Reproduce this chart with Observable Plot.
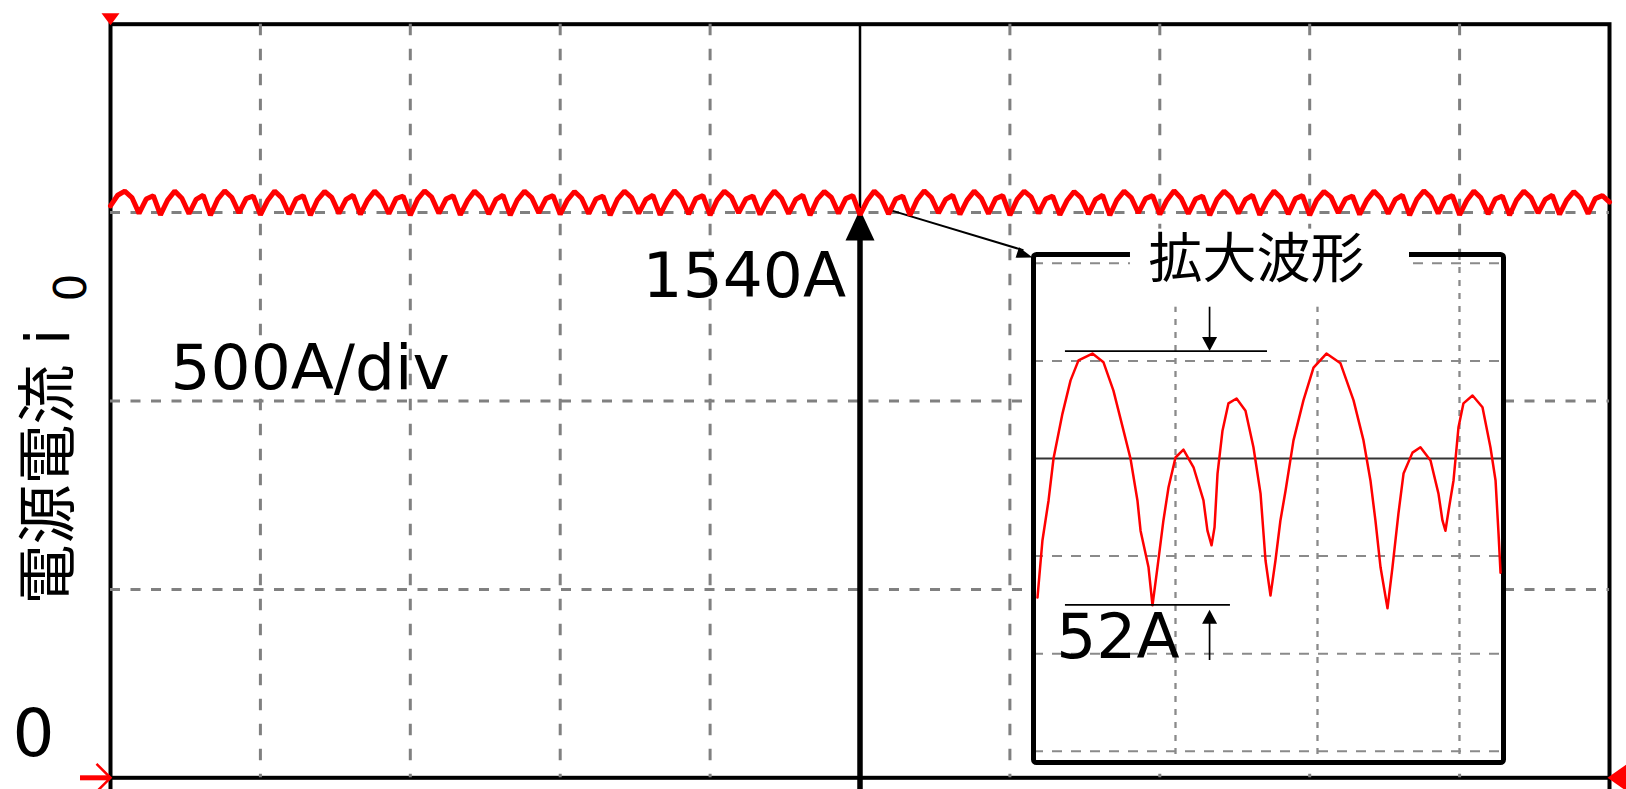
<!DOCTYPE html>
<html><head><meta charset="utf-8">
<script src="https://cdn.jsdelivr.net/npm/d3@7"></script>
<script src="https://cdn.jsdelivr.net/npm/@observablehq/plot@0.6"></script>
<style>
body{margin:0;background:#fff;}
#wrap{position:relative;width:1626px;height:789px;overflow:hidden;}
#main{position:absolute;left:0;top:0;width:1626px;}
#inset{position:absolute;left:1023px;top:220px;width:490px;}
svg{display:block}
</style></head><body>
<div id="wrap"><div id="main"></div><div id="inset"></div></div>
<script>
// ---------- data ----------
// main trace: source current (A), sampled every 1/21 div (10 div full scale)
const divisions = 10;
const samplesPerDiv = 21;
const traceCurrent = [
  1518, 1546,
  1557, 1540, 1498, 1536, 1545, 1494, 1533,
  1557, 1538, 1497, 1535, 1546, 1493, 1535,
  1558, 1540, 1499, 1537, 1544, 1494, 1532,
  1557, 1539, 1496, 1536, 1545, 1493, 1534,
  1556, 1540, 1498, 1535, 1546, 1495, 1533,
  1557, 1538, 1497, 1537, 1544, 1493, 1535,
  1558, 1541, 1498, 1536, 1545, 1494, 1532,
  1557, 1539, 1496, 1535, 1546, 1493, 1534,
  1557, 1540, 1499, 1537, 1545, 1495, 1533,
  1556, 1538, 1497, 1536, 1544, 1493, 1535,
  1557, 1540, 1498, 1535, 1546, 1494, 1532,
  1558, 1539, 1496, 1537, 1545, 1493, 1534,
  1557, 1541, 1499, 1536, 1544, 1495, 1533,
  1557, 1538, 1497, 1535, 1546, 1493, 1535,
  1556, 1540, 1498, 1537, 1545, 1494, 1532,
  1557, 1539, 1496, 1536, 1544, 1493, 1534,
  1558, 1540, 1499, 1535, 1546, 1495, 1533,
  1557, 1538, 1497, 1537, 1545, 1493, 1535,
  1557, 1541, 1498, 1536, 1544, 1494, 1532,
  1556, 1539, 1496, 1535, 1546, 1493, 1534,
  1557, 1540, 1499, 1537, 1545, 1495, 1533,
  1558, 1538, 1497, 1536, 1544, 1493, 1535,
  1557, 1540, 1498, 1535, 1546, 1494, 1532,
  1557, 1539, 1496, 1537, 1545, 1493, 1534,
  1556, 1541, 1499, 1536, 1544, 1495, 1533,
  1557, 1538, 1497, 1535, 1546, 1493, 1535,
  1558, 1540, 1498, 1537, 1545, 1494, 1532,
  1557, 1539, 1496, 1536, 1544, 1493, 1534,
  1557, 1540, 1499, 1535, 1546, 1495, 1533,
  1556, 1538, 1497, 1537, 1545, 1528
];
// enlarged waveform (inset): time in inset divisions, current in A
const insetTime = [
  0.028,0.063,0.106,0.141,0.204,0.261,0.317,0.415,0.493,0.563,
  0.634,0.683,0.732,0.754,0.810,0.838,0.873,0.915,0.951,1.000,
  1.056,1.127,1.197,1.225,1.254,1.275,1.296,1.331,1.373,1.430,
  1.493,1.549,1.599,1.634,1.669,1.704,1.739,1.775,1.831,1.901,
  1.972,2.063,2.162,2.254,2.324,2.373,2.408,2.444,2.493,2.528,
  2.570,2.606,2.669,2.725,2.796,2.852,2.880,2.901,2.923,2.958,
  2.993,3.028,3.092,3.162,3.218,3.254,3.275,3.289
];
const insetCurrent = [
  1511.5,1523.2,1531.4,1540.0,1549.2,1556.0,1560.1,1561.5,1559.7,1553.9,
  1545.7,1540.0,1531.4,1525.2,1517.7,1509.9,1517.7,1527.3,1534.1,1540.2,
  1541.8,1538.2,1531.4,1525.2,1522.2,1525.9,1536.9,1545.7,1551.3,1552.3,
  1549.8,1542.3,1532.8,1519.1,1511.9,1519.1,1527.3,1533.4,1543.7,1551.9,
  1558.6,1561.5,1559.5,1551.9,1543.7,1535.5,1527.3,1517.7,1509.3,1517.7,
  1528.7,1536.9,1541.2,1542.3,1539.6,1532.8,1527.3,1525.2,1529.3,1535.5,
  1546.4,1551.3,1552.9,1550.5,1542.3,1535.5,1524.6,1516.6
];
const gridTimes = [1, 2, 3, 4, 6, 7, 8, 9];
const gridCurrents = [500, 1000, 1500];
const fullScale = 2000;
const insetGridTimes = [1, 2, 3];
const insetGridCurrents = [1480, 1500, 1520, 1560, 1580];
const insetCenterCurrent = 1540;
const dcLevel = 1540;
const rippleTop = 1562, rippleBottom = 1510;
const yLabel = "電源電流 i";
const yLabelSub = "0";
const scaleLabel = "500A/div";
const zeroLabel = "0";
const insetTitle = "拡大波形";
const rippleLabel = "52A";

// ---------- helpers ----------
const FONT = '"DejaVu Sans", "Noto Sans CJK JP", sans-serif';
const head = (deg, len, hw) => { const a = deg * Math.PI / 180, c = Math.cos(a), s = Math.sin(a);
  return {draw(ctx) { ctx.moveTo(0, 0); ctx.lineTo(-len*c - hw*s, -len*s + hw*c); ctx.lineTo(-len*c + hw*s, -len*s - hw*c); ctx.closePath(); }}; };
const chevron = (deg, len, hw) => { const a = deg * Math.PI / 180, c = Math.cos(a), s = Math.sin(a);
  return {draw(ctx) { ctx.moveTo(-len*c - hw*s, -len*s + hw*c); ctx.lineTo(0, 0); ctx.lineTo(-len*c + hw*s, -len*s - hw*c); }}; };

const trace = traceCurrent.map((v, k) => ({t: k / samplesPerDiv, i: v}));
const inset = insetTime.map((t, k) => ({t, i: insetCurrent[k]}));
const one = [{}];

// ---------- main chart ----------
const main = Plot.plot({
  width: 1626, height: 789,
  marginLeft: 110, marginRight: 17, marginTop: 23.7, marginBottom: 11.7,
  x: {domain: [0, divisions], axis: null},
  y: {domain: [0, fullScale], axis: null},
  style: {fontFamily: FONT, background: "white", color: "black"},
  marks: [
    Plot.frame({stroke: "black", strokeWidth: 4}),
    Plot.ruleX([0, divisions], {y1: -60, y2: 0, stroke: "black", strokeWidth: 4}),
    Plot.ruleY(gridCurrents, {stroke: "#808080", strokeWidth: 3, strokeDasharray: "10,10.5"}),
    Plot.ruleX(gridTimes, {stroke: "#808080", strokeWidth: 3, strokeDasharray: "11.5,13.5"}),
    // level indicator at centre
    Plot.ruleX([divisions / 2], {y1: 1510, y2: fullScale, stroke: "black", strokeWidth: 2.5}),
    Plot.ruleX([divisions / 2], {y1: -60, y2: 1440, stroke: "black", strokeWidth: 5.5}),
    Plot.dot(one, {x: () => divisions / 2, y: () => 1508, r: 1, symbol: head(-90, 31, 14.5), fill: "black", stroke: "none"}),
    // callout to inset
    Plot.link(one, {x1: () => 5.19, y1: () => 1508, x2: () => 6.09, y2: () => 1400, stroke: "black", strokeWidth: 2}),
    Plot.dot(one, {x: () => 6.151, y: () => 1381, r: 1, symbol: head(18.3, 16, 5.5), fill: "black", stroke: "none"}),
    // trace
    Plot.line(trace, {x: "t", y: "i", stroke: "#ff0000", strokeWidth: 5, strokeLinejoin: "miter"}),
    // oscilloscope markers
    Plot.dot(one, {x: () => 0, y: () => fullScale, dy: 1, r: 1, symbol: head(90, 12, 9), fill: "#ff0000", stroke: "none"}),
    Plot.ruleY([0], {x1: -0.2, x2: 0, stroke: "#ff0000", strokeWidth: 5}),
    Plot.dot(one, {x: () => 0, y: () => 0, r: 1, symbol: chevron(0, 14, 14), fill: "none", stroke: "#ff0000", strokeWidth: 2.5}),
    Plot.dot(one, {x: () => divisions, y: () => 0, dx: -2, r: 1, symbol: head(180, 20, 14), fill: "#ff0000", stroke: "none"}),
    // texts
    Plot.text([zeroLabel], {x: () => 0, y: () => 0, dx: -98, dy: -22, textAnchor: "start", lineAnchor: "bottom", fontSize: 66, fill: "black"}),
    Plot.text([scaleLabel], {x: () => 0, y: () => 1000, dx: 60, dy: -12, textAnchor: "start", lineAnchor: "bottom", fontSize: 63, fill: "black"}),
    Plot.text([`${dcLevel}A`], {x: () => divisions / 2, y: () => 1500, dx: -14, dy: 84, textAnchor: "end", lineAnchor: "bottom", fontSize: 63, fill: "black"}),
    Plot.text([yLabel], {frameAnchor: "left", rotate: -90, dx: -42, dy: 65.5, textAnchor: "middle", lineAnchor: "bottom", fontSize: 60, fill: "black"}),
    Plot.text([yLabelSub], {frameAnchor: "left", rotate: -90, dx: -25, dy: -113.5, textAnchor: "middle", lineAnchor: "bottom", fontSize: 44, fill: "black"})
  ]
});
document.getElementById("main").appendChild(main);

// ---------- inset (enlarged waveform) ----------
const insetPlot = Plot.plot({
  width: 490, height: 552,
  marginLeft: 10, marginRight: 10, marginTop: 34, marginBottom: 10,
  x: {domain: [0, 3.31], axis: null},
  y: {domain: [1477.7, 1581.8], axis: null},
  style: {fontFamily: FONT, background: "transparent", color: "black"},
  marks: [
    Plot.frame({fill: "white", stroke: "none"}),
    Plot.ruleY(insetGridCurrents, {stroke: "#8a8a8a", strokeWidth: 2, strokeDasharray: "10,9"}),
    Plot.ruleX(insetGridTimes, {stroke: "#8a8a8a", strokeWidth: 2.3, strokeDasharray: "6,7"}),
    Plot.ruleY([insetCenterCurrent], {stroke: "#333", strokeWidth: 2}),
    Plot.frame({stroke: "black", strokeWidth: 5, rx: 3}),
    // white mask behind the inset title
    Plot.rect(one, {x1: () => 0.683, x2: () => 2.648, y1: () => 1571, y2: () => 1587, fill: "white"}),
    Plot.line(inset, {x: "t", y: "i", stroke: "#ff0000", strokeWidth: 2.5}),
    // ripple annotation
    Plot.ruleY([rippleTop], {x1: 0.225, x2: 1.648, stroke: "black", strokeWidth: 1.7}),
    Plot.ruleY([rippleBottom], {x1: 0.225, x2: 1.387, stroke: "black", strokeWidth: 1.7}),
    Plot.ruleX([1.24], {y1: 1571, y2: rippleTop + 2, stroke: "black", strokeWidth: 1.7}),
    Plot.dot(one, {x: () => 1.24, y: () => rippleTop, r: 1, symbol: head(90, 14, 7.5), fill: "black", stroke: "none"}),
    Plot.ruleX([1.24], {y1: 1498.6, y2: rippleBottom - 3, stroke: "black", strokeWidth: 1.7}),
    Plot.dot(one, {x: () => 1.24, y: () => rippleBottom - 1, r: 1, symbol: head(-90, 14, 7.5), fill: "black", stroke: "none"}),
    Plot.text([rippleLabel], {x: () => 0.16, y: () => 1499.2, textAnchor: "start", lineAnchor: "bottom", fontSize: 63, fill: "black"}),
    Plot.text([insetTitle], {x: () => 1.57, frameAnchor: "top", dy: 23, textAnchor: "middle", lineAnchor: "bottom", fontSize: 54, fill: "black"})
  ]
});
document.getElementById("inset").appendChild(insetPlot);
</script>
</body></html>
